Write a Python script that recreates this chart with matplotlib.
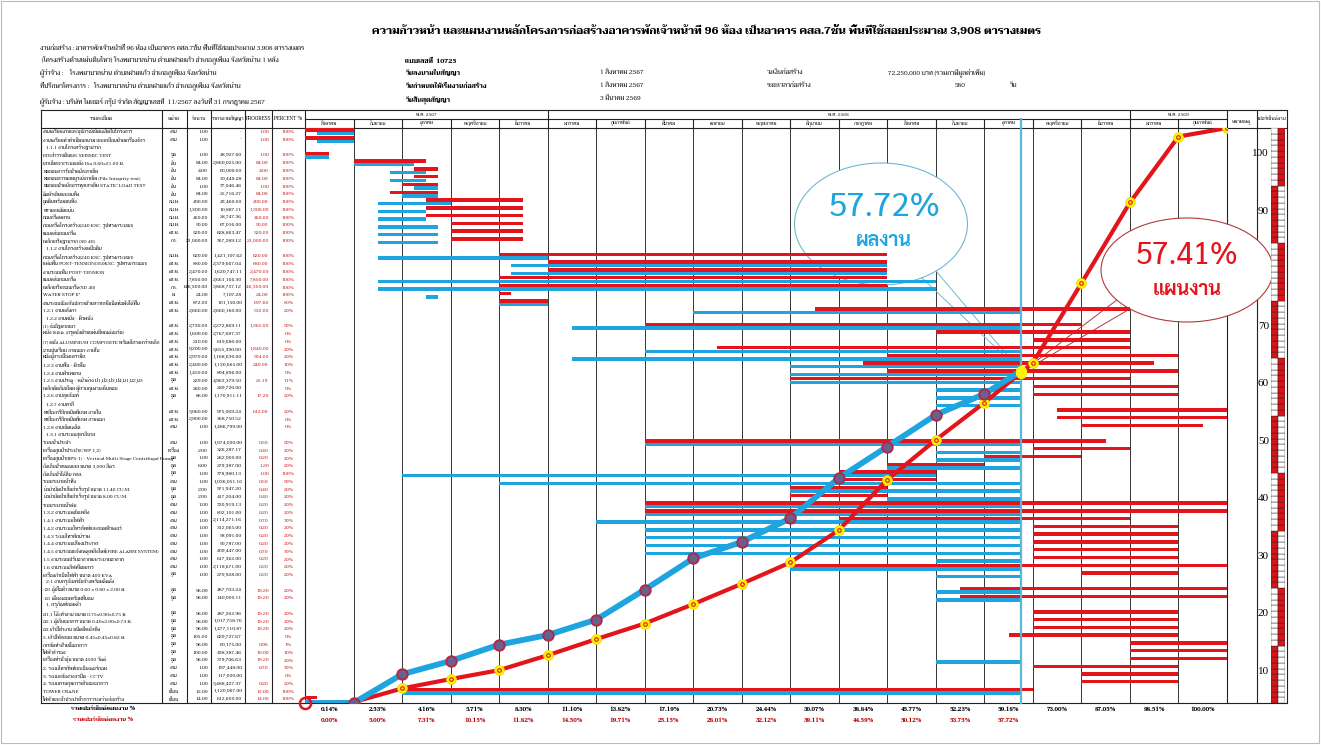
import matplotlib
matplotlib.use("Agg")
import matplotlib.pyplot as plt
from matplotlib import font_manager
from matplotlib.patches import Ellipse
from matplotlib.transforms import blended_transform_factory


def pick(names):
    have = {f.name for f in font_manager.fontManager.ttflist}
    for n in names:
        if n in have:
            return n
    return "DejaVu Sans"


SERIF = pick(["Taviraj", "Trirong", "Noto Serif Thai", "Sarabun", "Athiti"])
SANS = pick(["Sarabun", "Noto Sans Thai", "Prompt", "Kanit", "Athiti"])
plt.rcParams["font.family"] = [SERIF, "DejaVu Sans"]

# ---------------- data ----------------
title = ("ความก้าวหน้า และแผนงานหลักโครงการก่อสร้างอาคารพักเจ้าหน้าที่ 96 ห้อง "
         "เป็นอาคาร คสล.7ชั้น พื้นที่ใช้สอยประมาณ 3,908 ตารางเมตร")

months = ["สิงหาคม", "กันยายน", "ตุลาคม", "พฤศจิกายน", "ธันวาคม",
          "มกราคม", "กุมภาพันธ์", "มีนาคม", "เมษายน", "พฤษภาคม", "มิถุนายน",
          "กรกฎาคม", "สิงหาคม", "กันยายน", "ตุลาคม", "พฤศจิกายน", "ธันวาคม",
          "มกราคม", "กุมภาพันธ์"]
years = [("พ.ศ. 2567", 0, 5), ("พ.ศ. 2568", 5, 17), ("พ.ศ. 2569", 17, 19)]

# cumulative % at the end of each month
plan_pct = [0.14, 2.53, 4.16, 5.71, 8.30, 11.10, 13.82, 17.19, 20.73, 24.44,
            30.07, 38.84, 45.77, 52.23, 59.18, 73.00, 87.05, 98.51, 100.00]
actual_pct = [0.00, 5.00, 7.31, 10.15, 11.82, 14.50, 19.71, 25.15, 28.01, 32.12,
              39.11, 44.59, 50.12, 53.75, 57.72]
report_month = 14.75          # date line (late ตุลาคม 2568)
plan_at_report = 57.41

labels = [
    "งานเตรียมงานและอุปกรณ์เบ็ดเตล็ดในโครงการ",
    "งานเตรียมท่าทำเนียบสนาม และเคลื่อนย้ายเครื่องจักร",
    "1.1.1 งานโครงสร้างฐานราก",
    "เจาะสำรวจดินและ SEISMIC TEST",
    "เสาเข็มเจาะระบบแห้ง Dia 0.60x21.00 ม.",
    "ทดสอบการรับน้ำหนักเสาเข็ม",
    "ทดสอบความสมบูรณ์เสาเข็ม (Pile Integrity test)",
    "ทดสอบน้ำหนักบรรทุกเสาเข็ม STATIC LOAD TEST",
    "ตัดหัวเข็มและขนทิ้ง",
    "ขุดดินพร้อมขนทิ้ง",
    "ทรายถมอัดแน่น",
    "คอนกรีตหยาบ",
    "คอนกรีตโครงสร้าง(240 KSC. รูปทรงกระบอก)",
    "แบบหล่อคอนกรีต",
    "เหล็กเสริมฐานราก (SD 40)",
    "1.1.2 งานโครงสร้างเหนือดิน",
    "คอนกรีตโครงสร้าง(240 KSC. รูปทรงกระบอก)",
    "แผ่นพื้น POST-TENSION(350KSC. รูปทรงกระบอก)",
    "งานระบบพื้น POST-TENSION",
    "แบบหล่อคอนกรีต",
    "เหล็กเสริมคอนกรีต(SD 40)",
    "WATER STOP 6\"",
    "งานระบบป้องกันปลวกด้วยสารเคมีชนิดท่อฝังใต้พื้น",
    "1.2.1 งานหลังคา",
    "1.2.2 งานผนัง - ผิวผนัง",
    "(1) ก่ออิฐมวลเบา",
    "ผนัง ช.ข.ต. (กรุผนังด้วยแผ่นซีเมนต์บอร์ด)",
    "(7) ผนัง ALUMINIUM COMPOSITE พร้อมโครงเคร่าเหล็ก",
    "ฉาบปูนเรียบ ภายนอก-ภายใน",
    "ผนังปูกระเบื้องเซรามิค",
    "1.2.3 งานพื้น - ผิวพื้น",
    "1.2.4 งานฝ้าเพดาน",
    "1.2.5 งานประตู - หน้าต่าง ป1,ป2,ป3,ป4,น1,น2,น3",
    "เหล็กดัดกันขโมย ผู้ควบคุมงานเห็นชอบ",
    "1.2.6 งานสุขภัณฑ์",
    "1.2.7 งานทาสี",
    "ทาสีอะคริลิคชนิดพิเศษ ภายใน",
    "ทาสีอะคริลิคชนิดพิเศษ ภายนอก",
    "1.2.8 งานเบ็ดเตล็ด",
    "1.3.1 งานระบบสุขาภิบาล",
    "ระบบน้ำประปา",
    "เครื่องสูบน้ำประปา(CWP 1,2)",
    "เครื่องสูบน้ำ(BPS-1) - Vertical Multi Stage Centrifugal Pump",
    "ถังเก็บน้ำสแตนเลส ขนาด 3,000 ลิตร",
    "ถังเก็บน้ำใต้ดิน คสล.",
    "ระบบระบายน้ำทิ้ง",
    "บ่อบำบัดน้ำเสียสำเร็จรูป ขนาด 11.40 CU.M.",
    "บ่อบำบัดน้ำเสียสำเร็จรูป ขนาด 8.00 CU.M.",
    "ระบบระบายน้ำฝน",
    "1.3.2 งานระบบดับเพลิง",
    "1.4.1 งานระบบไฟฟ้า",
    "1.4.2 งานระบบโทรศัพท์และคอมพิวเตอร์",
    "1.4.3 ระบบโทรทัศน์รวม",
    "1.4.4 งานระบบเสียงประกาศ",
    "1.4.5 งานระบบแจ้งเหตุเพลิงไหม้(FIRE ALARM SYSTEM)",
    "1.5 งานระบบปรับอากาศและระบายอากาศ",
    "1.6 งานระบบลิฟท์โดยสาร",
    "เครื่องกำเนิดไฟฟ้า ขนาด 400 KVA",
    "2.1 งานครุภัณฑ์จัดจ้างพร้อมติดตั้ง",
    "-ฮ1 ตู้เสื้อผ้า ขนาด 0.60 x 0.80 x 2.00 ม.",
    "-ฮ1 เตียงนอนพร้อมที่นอน",
    "1. ครุภัณฑ์ลอยตัว",
    "ฮ1.1 โต๊ะทำงาน ขนาด 0.75x0.90x0.75 ม.",
    "ฮ2.1 ตู้เก็บเอกสาร ขนาด 0.40x2.00x0.73 ม.",
    "ฮ3 เก้าอี้ทำงาน ชนิดมีพนักพิง",
    "5. เก้าอี้พักคอย ขนาด 0.45x0.45x0.82 ม.",
    "การจัดทำป้ายชื่ออาคาร",
    "ไฟฟ้าสำรอง",
    "เครื่องทำน้ำอุ่น ขนาด 4500 วัตต์",
    "2. ระบบโทรศัพท์และอินเตอร์คอม",
    "3. ระบบกล้องวงจรปิด - CCTV",
    "4. ระบบควบคุมการเข้าออกอาคาร",
    "TOWER CRANE",
    "ไฟฟ้าและน้ำประปาชั่วคราวระหว่างก่อสร้าง",
]

units = ["งาน", "งาน", "", "จุด", "ต้น", "ต้น", "ต้น", "ต้น", "ต้น", "ลบ.ม.",
         "ลบ.ม.", "ลบ.ม.", "ลบ.ม.", "ตร.ม.", "กก.", "", "ลบ.ม.", "ตร.ม.", "ตร.ม.", "ตร.ม.",
         "กก.", "ม.", "ตร.ม.", "ตร.ม.", "", "ตร.ม.", "ตร.ม.", "ตร.ม.", "ตร.ม.", "ตร.ม.",
         "ตร.ม.", "ตร.ม.", "ชุด", "ตร.ม.", "ชุด", "", "ตร.ม.", "ตร.ม.", "งาน", "",
         "งาน", "เครื่อง", "ชุด", "ชุด", "ชุด", "งาน", "ชุด", "ชุด", "งาน", "งาน",
         "งาน", "งาน", "งาน", "งาน", "งาน", "งาน", "งาน", "ชุด", "", "ชุด",
         "ชุด", "", "ชุด", "ชุด", "ชุด", "ชุด", "ชุด", "ชุด", "ชุด", "งาน",
         "งาน", "งาน", "เดือน", "เดือน"]

qty = [1, 1, None, 1, 84, 4, 84, 1, 84, 400,
       1300, 450, 50, 520, 21000, None, 620, 880, 2470, 7850,
       146300, 24, 872, 2660, None, 2730, 1600, 210, 9200, 2970,
       2400, 1450, 229, 260, 86, None, 3060, 2900, 1, None,
       1, 2, 1, 6, 1, 1, 2, 2, 1, 1,
       1, 1, 1, 1, 1, 1, 1, 1, None, 96,
       96, None, 96, 96, 96, 105, 96, 100, 96, 1,
       1, 1, 12, 14]

price = [0, 0, None, 48927.60, 2860025.00, 60000.00, 30449.28, 77046.46, 25716.27, 43460.00,
         10887.11, 28747.36, 67016.00, 628863.47, 767289.12, None, 1421107.62, 2379667.04, 1620747.11, 2661106.30,
         3868757.12, 7107.28, 101150.00, 2660160.00, None, 2272869.11, 2767687.37, 619680.00, 3655390.00, 1168630.00,
         1130665.00, 894896.00, 4963379.50, 289720.00, 1170911.11, None, 975069.24, 368750.52, 1486799.00, None,
         1074000.00, 326287.17, 262000.00, 279387.00, 778980.13, 1036051.16, 971947.20, 417204.00, 720919.13, 802101.00,
         2114271.16, 312065.00, 58091.00, 50787.00, 409447.00, 617362.00, 2118671.00, 270928.00, None, 467703.24,
         140000.11, None, 487262.96, 1017758.76, 1477110.87, 629727.67, 60175.00, 438387.46, 379706.63, 197448.00,
         117000.00, 3488427.37, 1120067.00, 612600.00]

percent = [100, 100, None, 100, 100, 100, 100, 100, 100, 100,
           100, 100, 100, 100, 100, None, 100, 100, 100, 100,
           100, 100, 80, 20, None, 50, 0, 0, 20, 20,
           10, 0, 11, 0, 20, None, 20, 0, 0, None,
           50, 20, 20, 20, 100, 50, 20, 20, 20, 20,
           70, 20, 20, 20, 70, 20, 20, 20, None, 20,
           20, None, 20, 20, 20, 0, 1, 10, 20, 70,
           0, 20, 100, 100]

# gantt bars: (row, start month, end month)
plan_bars = [(0, 0, 1), (1, 0, 1), (3, 0, 0.5), (4, 1, 2.5), (5, 2.25, 2.75), (6, 2.25, 2.75),
             (7, 2, 2.75), (8, 1.75, 2.75), (9, 2.5, 4.5), (10, 2.5, 4.5), (11, 2.5, 4.5),
             (12, 3, 4.5), (13, 3, 4.5), (14, 3, 4.5), (16, 4, 12), (17, 5, 12), (18, 5, 12),
             (19, 4, 12), (20, 4, 12), (21, 4, 4.25), (22, 4, 5), (23, 10.5, 17), (25, 7, 16),
             (26, 13, 17), (27, 15, 17), (28, 8.5, 17), (29, 12, 18), (30, 11.5, 17.5),
             (31, 12, 18), (32, 10, 17), (33, 15, 18), (34, 15, 18), (36, 15.5, 19),
             (37, 15.5, 19), (38, 16, 18.5), (40, 7, 16.5), (41, 15, 17), (42, 14, 16),
             (43, 12, 14), (44, 11, 13), (45, 11, 13), (46, 10, 12), (47, 10, 12), (48, 7, 19),
             (49, 7, 19), (50, 11, 17), (51, 15, 18), (52, 15, 18), (53, 15, 18), (54, 15, 18),
             (55, 15, 18), (56, 10, 19), (57, 16, 18), (59, 13.5, 19), (60, 13.5, 19),
             (62, 15, 18), (63, 15, 18), (64, 15, 18), (65, 14.5, 18), (66, 17, 19),
             (67, 17, 19), (68, 17, 19), (69, 15, 18), (70, 16, 18), (71, 16, 18),
             (72, 2, 15), (73, 0, 0.25)]
actual_bars = [(0, 0.25, 1), (1, 0.25, 1), (3, 0, 0.5), (4, 1, 2.25), (5, 1.75, 2.5),
               (6, 1.75, 2.5), (7, 2.25, 2.75), (8, 2, 2.75), (9, 1.5, 3), (10, 1.5, 2.5),
               (11, 1.5, 2.5), (12, 1.5, 2.75), (13, 1.5, 2.75), (14, 1.5, 2.75), (16, 1.5, 5),
               (17, 4.25, 12), (18, 4.25, 12), (19, 1.5, 13), (20, 1.5, 13), (21, 2.5, 2.75),
               (22, 4, 5), (23, 8, 14.75), (25, 5.5, 14.75), (28, 7, 14.75), (29, 5.5, 14.75),
               (30, 10, 14.75), (31, 10, 14.75), (32, 10, 14.75), (33, 13, 14.75),
               (34, 13, 14.75), (35, 13, 14.75), (40, 7, 14.75), (41, 13, 14.75),
               (42, 13, 14.75), (43, 12, 14.75), (44, 2, 13), (45, 4, 14.75), (46, 10, 14.75),
               (47, 12, 14.75), (48, 7, 14.75), (49, 7, 14.75), (50, 6, 14.75), (51, 7, 14.75),
               (52, 7, 14.75), (53, 7, 14.75), (54, 7, 14.75), (55, 13, 14.75), (56, 10, 14.75),
               (57, 13, 14.75), (59, 13, 14.75), (60, 13, 14.75), (68, 13, 14.75), (72, 2, 14.75)]

RED = "#E3141B"
BLUE = "#1EA4DF"
DRED = "#C00000"

# ---------------- layout ----------------
W, H = 1321, 745
GX0, GX1, GY0, GY1 = 305, 1227, 128, 703
MW = (GX1 - GX0) / 19
NR = len(labels)
RH = (GY1 - GY0) / NR
cols = [40.7, 161.7, 186.7, 211, 245, 271.7, GX0]

fig = plt.figure(figsize=(W / 100, H / 100), dpi=100)
fr = fig.add_axes([0, 0, 1, 1])
fr.set_xlim(0, W)
fr.set_ylim(H, 0)
fr.axis("off")

ax = fig.add_axes([GX0 / W, 1 - GY1 / H, (GX1 - GX0) / W, (GY1 - GY0) / H])
ax.set_xlim(0, 19)
ax.set_ylim(0, 100)
ax.axis("off")
px = fr.transData

# page frame
fr.plot([1, W - 2, W - 2, 1, 1], [1, 1, H - 2, H - 2, 1], color="#bbbbbb", lw=0.8)

# title and project info
fr.text(706, 31, title, ha="center", va="center", fontsize=7.8, fontweight="bold")
info_left = [
    (48, "งานก่อสร้าง : อาคารพักเจ้าหน้าที่ 96 ห้อง เป็นอาคาร คสล.7ชั้น พื้นที่ใช้สอยประมาณ 3,908 ตารางเมตร"),
    (60, " (โครงสร้างต้านแผ่นดินไหว) โรงพยาบาลน่าน ตำบลฝายแก้ว อำเภอภูเพียง จังหวัดน่าน 1 หลัง"),
    (73, "ผู้ว่าจ้าง :    โรงพยาบาลน่าน ตำบลฝายแก้ว อำเภอภูเพียง จังหวัดน่าน"),
    (86, "ที่ปรึกษาโครงการ :   โรงพยาบาลน่าน ตำบลฝายแก้ว อำเภอภูเพียง จังหวัดน่าน"),
    (102, "ผู้รับจ้าง : บริษัท ไมเซอร์ กรุ๊ป จำกัด สัญญาเลขที่  11/2567 ลงวันที่ 31 กรกฎาคม 2567"),
]
for y, s in info_left:
    fr.text(40, y, s, ha="left", va="center", fontsize=4.6)
info_mid = [(405, 61, "แบบเลขที่  10725", True), (405, 73, "วันลงนามในสัญญา", True),
            (600, 73, "1 สิงหาคม 2567", False), (405, 86, "วันกำหนดให้เริ่มงานก่อสร้าง", True),
            (600, 86, "1 สิงหาคม 2567", False), (405, 101, "วันสิ้นสุดสัญญา", True),
            (600, 99, "3 มีนาคม 2569", False), (767, 73, "วงเงินก่อสร้าง", False),
            (888, 73, "72,250,000 บาท (รวมภาษีมูลค่าเพิ่ม)", False),
            (767, 86, "ระยะเวลาก่อสร้าง", False), (955, 86, "580", False), (1010, 86, "วัน", False)]
for x, y, s, b in info_mid:
    fr.text(x, y, s, ha="left", va="center", fontsize=4.6, fontweight="bold" if b else "normal")

# table frame
lk = dict(color="#222222", lw=0.8)
fr.plot([cols[0], 1287], [110, 110], **lk)
fr.plot([cols[0], 1287], [GY0, GY0], **lk)
fr.plot([cols[0], 1287], [GY1, GY1], **lk)
fr.plot([GX0, GX1], [119, 119], **lk)
for x in cols + [GX1, 1257, 1287]:
    fr.plot([x, x], [110, GY1], **lk)
for i in range(1, 19):
    xm = GX0 + i * MW
    fr.plot([xm, xm], [110 if i in (5, 17) else 119, GY0], **lk)
ax.vlines(range(1, 19), 0, 100, color="#333333", lw=0.7, zorder=1)

heads = ["รายละเอียด", "หน่วย", "จำนวน", "ราคาตามสัญญา", "PROGRESS", "PERCENT %"]
for k, s in enumerate(heads):
    fr.text((cols[k] + cols[k + 1]) / 2, 119, s, ha="center", va="center", fontsize=3.6)
for s, a, b in years:
    fr.text(GX0 + (a + b) / 2 * MW, 114.5, s, ha="center", va="center", fontsize=3.4)
for i, s in enumerate(months):
    fr.text(GX0 + (i + 0.5) * MW, 123.5, s, ha="center", va="center", fontsize=3.4)
fr.text(1242, 122, "หมายเหตุ", ha="center", va="center", fontsize=3.6)
fr.text(1272, 119, "เปอร์เซ็นต์งาน", ha="center", va="center", fontsize=3.6)

# table rows
for i, s in enumerate(labels):
    y = GY0 + (i + 0.5) * RH
    head = qty[i] is None
    fr.text(cols[0] + (5 if head else 2), y, s, ha="left", va="center", fontsize=3.5)
    fr.text((cols[1] + cols[2]) / 2, y, units[i], ha="center", va="center", fontsize=3.5)
    if head:
        continue
    fr.text(cols[3] - 3, y, f"{qty[i]:,.2f}", ha="right", va="center", fontsize=3.5)
    ptxt = "-" if price[i] == 0 else f"{price[i]:,.2f}"
    fr.text(cols[4] - 3, y, ptxt, ha="right", va="center", fontsize=3.5)
    if percent[i] > 0:
        fr.text(cols[5] - 3, y, f"{qty[i] * percent[i] / 100:,.2f}", ha="right",
                va="center", fontsize=3.5, color=DRED)
    fr.text((cols[5] + cols[6]) / 2, y, f"{percent[i]}%", ha="center", va="center",
            fontsize=3.5, color=DRED)


# gantt bars
def row_top(r):
    return 100 - r * 100 / NR


rhu = 100 / NR
ax.barh([row_top(r) - 0.27 * rhu for r, s, e in plan_bars],
        [e - s for r, s, e in plan_bars], left=[s for r, s, e in plan_bars],
        height=0.44 * rhu, color=RED, zorder=3)
ax.barh([row_top(r) - 0.73 * rhu for r, s, e in actual_bars],
        [e - s for r, s, e in actual_bars], left=[s for r, s, e in actual_bars],
        height=0.44 * rhu, color=BLUE, zorder=3)

# report date line
ax.axvline(report_month, 0, 1 + (GY0 - 119) / (GY1 - GY0), color="#5BB7D9", lw=1.6,
           zorder=4, clip_on=False)


# callouts
def to_px(x, y):
    return px.inverted().transform(ax.transData.transform((x, y)))


tip_a = to_px(report_month, actual_pct[-1])
tip_p = to_px(report_month, plan_at_report)
for bx, by in [(905, 262), (925, 258)]:
    ax.plot([bx, tip_a[0]], [by, tip_a[1]], color="#6FB9D3", lw=0.7, transform=px,
            zorder=2, clip_on=False)
for bx, by in [(1130, 290), (1145, 300)]:
    ax.plot([bx, tip_p[0]], [by, tip_p[1]], color="#B03A3A", lw=0.7, transform=px,
            zorder=2, clip_on=False)
ax.add_patch(Ellipse((881, 224), 173, 122, transform=px, facecolor="white",
                     edgecolor="#6FB9D3", lw=0.8, zorder=2.5, clip_on=False))
ax.add_patch(Ellipse((1187, 270), 172, 104, transform=px, facecolor="white",
                     edgecolor="#B03A3A", lw=0.8, zorder=2.5, clip_on=False))
ax.text(884, 207, f"{actual_pct[-1]:.2f}%", transform=px, ha="center", va="center",
        fontsize=24, color=BLUE, family=SANS, zorder=8)
ax.text(884, 241, "ผลงาน", transform=px, ha="center", va="center", fontsize=14,
        fontweight="bold", color=BLUE, family=SANS, zorder=8)
ax.text(1187, 256, f"{plan_at_report:.2f}%", transform=px, ha="center", va="center",
        fontsize=22, color=RED, family=SANS, zorder=8)
ax.text(1187, 290, "แผนงาน", transform=px, ha="center", va="center", fontsize=14,
        fontweight="bold", color=RED, family=SANS, zorder=8)

# S-curves
xp = list(range(0, 20))
yp = [0] + plan_pct
xa = list(range(0, 15)) + [report_month]
ya = [0] + actual_pct
ax.plot(xp, yp, color=RED, lw=3, zorder=6, solid_capstyle="round")
ax.plot(xa, ya, color=BLUE, lw=4.2, zorder=7, solid_capstyle="round")
ax.plot(xp[1:], yp[1:], "o", ms=7, mfc="#FFF200", mec="#F2DA00", mew=0.6, zorder=8)
ax.plot(xp[1:], yp[1:], "o", ms=2.6, mfc="none", mec=RED, mew=0.8, zorder=9)
ax.plot(xa[1:-1], ya[1:-1], "o", ms=7.5, mfc="#6A5F8F", mec="#B02A45", mew=1.4, zorder=9)
ax.plot([report_month, report_month], [actual_pct[-1], plan_at_report], "o", ms=7,
        mfc="#FFF200", mec="#FFF200", zorder=10, clip_on=False)
ax.plot([0], [0], "o", ms=8, mfc="none", mec=RED, mew=1.8, zorder=10, clip_on=False)

# percent ladder
lad = fig.add_axes([1271 / W, 1 - GY1 / H, 14 / W, (GY1 - GY0) / H])
lad.set_xlim(0, 2)
lad.set_ylim(0, 100)
lad.axis("off")
for c in (0, 1):
    cl = ["#D81418" if ((k // 10) + c) % 2 == 0 else "white" for k in range(100)]
    lad.bar([c + 0.5] * 100, [1] * 100, bottom=list(range(100)), width=1, color=cl,
            edgecolor="#222222", lw=0.3)
tb = blended_transform_factory(fr.transData, lad.transData)
for v in range(10, 101, 10):
    fr.text(1269, v - 4.5, str(v), transform=tb, ha="right", va="center", fontsize=8,
            family="Liberation Serif")

# cumulative rows under the table
fr.text(103, 709, "รวมเปอร์เซ็นต์แผนงาน %", ha="center", va="center", fontsize=4,
        fontweight="bold")
fr.text(103, 720, "รวมเปอร์เซ็นต์ผลงาน %", ha="center", va="center", fontsize=4,
        fontweight="bold", color=DRED)
for i, v in enumerate(plan_pct):
    fr.text(GX0 + (i + 0.5) * MW, 709, f"{v:.2f}%", ha="center", va="center",
            fontsize=4, fontweight="bold")
for i, v in enumerate(actual_pct):
    fr.text(GX0 + (i + 0.5) * MW, 720, f"{v:.2f}%", ha="center", va="center",
            fontsize=4, fontweight="bold", color=DRED)

fig.savefig("out.png", dpi=100)
